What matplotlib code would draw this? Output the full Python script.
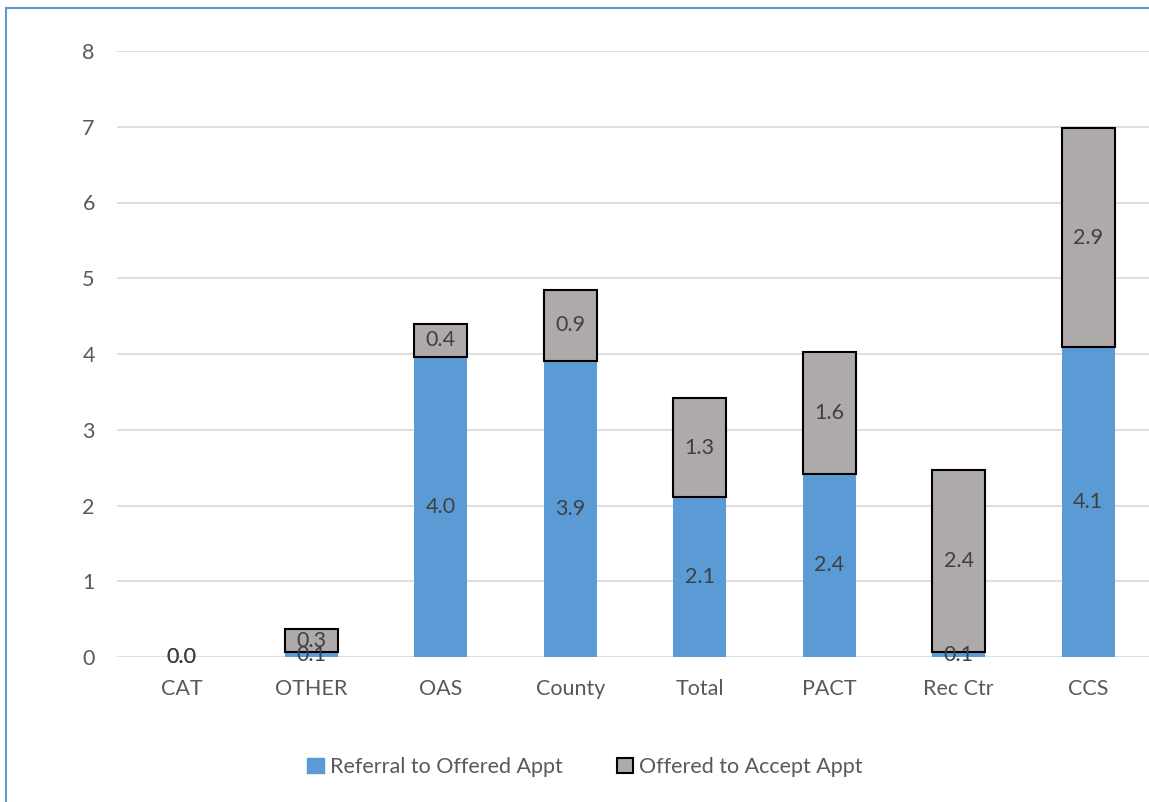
import matplotlib
matplotlib.use("Agg")
import matplotlib.pyplot as plt
from matplotlib.patches import Patch

categories = ["CAT", "OTHER", "OAS", "County", "Total", "PACT", "Rec Ctr", "CCS"]
referral_to_offered = [0.0, 0.06, 3.96, 3.91, 2.11, 2.42, 0.06, 4.09]
offered_to_accept = [0.0, 0.31, 0.44, 0.94, 1.31, 1.61, 2.41, 2.89]
y_ticks = [0, 1, 2, 3, 4, 5, 6, 7, 8]

BLUE = "#5B9BD5"
GRAY = "#AEAAAA"
TEXT = "#595959"
LABEL = "#404040"
GRID = "#D9D9D9"
FS = 15.5

plt.rcParams["font.family"] = ["Lato", "DejaVu Sans"]

W, H = 1149, 802
fig = plt.figure(figsize=(W / 100, H / 100), dpi=100)

# chart-area frame (left and top edges visible)
fig.add_artist(plt.Line2D([6 / W, 6 / W], [0, 1 - 8 / H], color=BLUE, lw=1.5,
                          transform=fig.transFigure))
fig.add_artist(plt.Line2D([6 / W, 1], [1 - 8 / H, 1 - 8 / H], color=BLUE, lw=1.5,
                          transform=fig.transFigure))

left, right = 117 / W, 1153 / W
bottom, top = 1 - 657 / H, 1 - 51 / H
ax = fig.add_axes([left, bottom, right - left, top - bottom])

x = list(range(len(categories)))
width = 0.41
edge_widths = [1.5 if g > 0 else 0 for g in offered_to_accept]
ax.bar(x, referral_to_offered, width, color=BLUE, zorder=2,
       label="Referral to Offered Appt")
ax.bar(x, offered_to_accept, width, bottom=referral_to_offered, color=GRAY,
       edgecolor="black", linewidth=edge_widths, zorder=2,
       label="Offered to Accept Appt")

for i in x:
    b = referral_to_offered[i]
    g = offered_to_accept[i]
    ax.text(i, b / 2, f"{b:.1f}", ha="center", va="center", fontsize=FS,
            color=LABEL, zorder=3)
    ax.text(i, b + g / 2, f"{g:.1f}", ha="center", va="center", fontsize=FS,
            color=LABEL, zorder=3)

ax.set_xlim(-0.5, len(categories) - 0.5)
ax.set_ylim(0, 8)
ax.set_yticks(y_ticks)
ax.set_xticks(x)
ax.set_xticklabels(categories)
ax.grid(axis="y", color=GRID, lw=1.2, zorder=0)
ax.set_axisbelow(True)
for s in ax.spines.values():
    s.set_visible(False)
ax.tick_params(axis="both", length=0, colors=TEXT, labelsize=FS)
ax.tick_params(axis="y", pad=16)
ax.tick_params(axis="x", pad=16)

handles = [Patch(facecolor=BLUE, edgecolor=BLUE),
           Patch(facecolor=GRAY, edgecolor="black", linewidth=1.5)]
fig.legend(handles, ["Referral to Offered Appt", "Offered to Accept Appt"],
           loc="center", bbox_to_anchor=(585 / W, 1 - 767 / H), ncol=2,
           frameon=False, fontsize=FS, handlelength=0.75, handleheight=0.75,
           handletextpad=0.3, columnspacing=2.5, labelcolor=TEXT)

fig.savefig("out.png", dpi=100)
